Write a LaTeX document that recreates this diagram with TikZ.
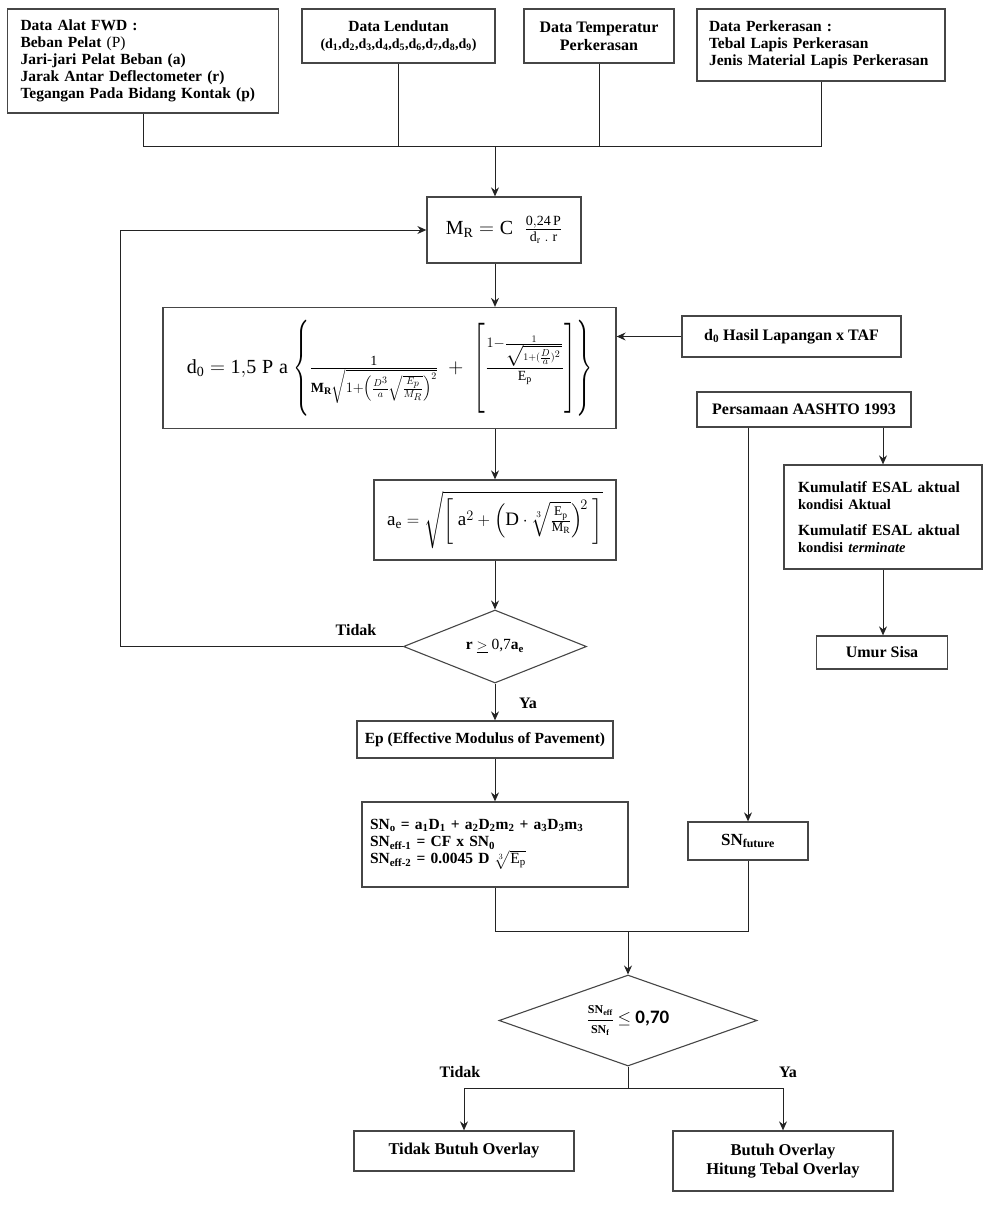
\documentclass[tikz,border=0pt]{standalone}
\usepackage{amsmath,amssymb}
\usepackage{graphicx}
\usepackage{fontspec}
\setmainfont{Liberation Serif}
\newfontfamily\carlito{Carlito}
\usepackage{tikz}
\usetikzlibrary{shapes.geometric,arrows.meta,positioning,calc}
\definecolor{boxgray}{RGB}{70,70,70}
\definecolor{linegray}{RGB}{35,35,35}
\newcommand{\tallbr}[2]{\mathopen{\vcenter{\hbox{\scalebox{1}[#1]{$\Biggl#2$}}}}}
\newcommand{\tallbrr}[2]{\mathclose{\vcenter{\hbox{\scalebox{1}[#1]{$\Biggr#2$}}}}}

\tikzset{
  box/.style={draw=boxgray, line width=1.3pt, fill=white, inner sep=0pt, align=center,
    font=\bfseries\fontsize{15.5}{17}\selectfont},
  lbox/.style={box, align=left},
  bigbox/.style={box, font=\bfseries\fontsize{16.5}{19}\selectfont},
  decision/.style={diamond, draw=boxgray, line width=1.1pt, fill=white, inner sep=0pt,
    aspect=2.6, font=\bfseries\fontsize{15.5}{17}\selectfont},
  link/.style={draw=linegray, line width=1pt},
  flow/.style={link, -{Stealth[length=9pt,width=8pt,inset=3pt]}},
  tag/.style={font=\bfseries\fontsize{16}{18}\selectfont}
}

\begin{document}
\begin{tikzpicture}[x=1pt,y=-1pt]
\useasboundingbox (0,0) rectangle (999,1205);

% data masukan
\node[lbox, minimum width=271pt, minimum height=104pt, text width=245pt] (fwd) at (143,61)
  {Data Alat FWD :\\ Beban Pelat \textmd{(P)}\\ Jari-jari Pelat Beban (a)\\ Jarak Antar Deflectometer (r)\\ Tegangan Pada Bidang Kontak (p)};
\node[box, minimum width=193pt, minimum height=54pt] (lendutan) at (398.5,36)
  {Data Lendutan\\ {\fontsize{14}{16}\selectfont (d\textsubscript{1},d\textsubscript{2},d\textsubscript{3},d\textsubscript{4},d\textsubscript{5},d\textsubscript{6},d\textsubscript{7},d\textsubscript{8},d\textsubscript{9})}};
\node[box, minimum width=150pt, minimum height=54pt, font=\bfseries\fontsize{16}{18}\selectfont] (temp) at (599,36)
  {Data Temperatur\\ Perkerasan};
\node[lbox, minimum width=248pt, minimum height=72pt, text width=224pt] (perk) at (821,45)
  {Data Perkerasan :\\ Tebal Lapis Perkerasan\\ Jenis Material Lapis Perkerasan};

% proses utama
\node[box, minimum width=154pt, minimum height=66pt, font=\fontsize{20}{24}\selectfont] (mr) at (504,230)
  {$\mathrm{M_R = C}\;\;\frac{\mathrm{0{,}24\,P}}{\mathrm{d_r\;.\;r}}$};
\node[box, minimum width=453pt, minimum height=121pt, font=\fontsize{20}{24}\selectfont] (dnol) at (389.5,368)
  {$\mathrm{d_0 = 1{,}5\;P\;a}\;\tallbr{1.6}{\{}\frac{\mathrm{1}}{\mathbf{M_R}\sqrt{1+\left(\frac{D^3}{a}\sqrt{\frac{E_p}{M_R}}\right)^2}}\;+\;\tallbr{1.5}{[}\frac{1-\frac{1}{\sqrt{1+(\frac{D}{a})^2\,}}}{\mathrm{E_p}}\tallbrr{1.5}{]}\tallbrr{1.6}{\}}$};
\node[box, minimum width=219pt, minimum height=41pt, font=\bfseries\fontsize{16}{18}\selectfont] (dlap) at (791.5,336.5)
  {d\textsubscript{0} Hasil Lapangan x TAF};
\node[box, minimum width=242pt, minimum height=80pt, font=\fontsize{19}{22}\selectfont] (ae) at (495,520)
  {$\mathrm{a_e} = \sqrt{\biggl[\;\mathrm{a}^2 + \Bigl(\mathrm{D}\cdot\sqrt[3]{\frac{\mathrm{E_p}}{\mathrm{M_R}}}\Bigr)^{\!2}\;\biggr]}$};
\node[decision, minimum width=183pt, minimum height=73pt] (cek) at (495,646.5)
  {r $\underline{>}$ \textmd{0,7}a\textsubscript{e}};
\node[box, minimum width=256pt, minimum height=37pt] (ep) at (485,739.5)
  {Ep (Effective Modulus of Pavement)};
\node[lbox, minimum width=266pt, minimum height=85pt, text width=250pt] (sn) at (495,844.5)
  {SN\textsubscript{o} = a\textsubscript{1}D\textsubscript{1} + a\textsubscript{2}D\textsubscript{2}m\textsubscript{2} + a\textsubscript{3}D\textsubscript{3}m\textsubscript{3}\\
   SN\textsubscript{eff-1} = CF x SN\textsubscript{0}\\
   SN\textsubscript{eff-2} = 0.0045 D $\sqrt[3]{\mathrm{E_p}}$};

% umur sisa
\node[box, minimum width=214pt, minimum height=35pt, font=\bfseries\fontsize{16}{18}\selectfont] (aashto) at (804,409.5)
  {Persamaan AASHTO 1993};
\node[lbox, minimum width=198pt, minimum height=104pt, text width=170pt] (esal) at (883,517)
  {Kumulatif ESAL aktual\\ {\fontsize{14.5}{17}\selectfont kondisi Aktual}\\[9pt]
   Kumulatif ESAL aktual\\ {\fontsize{14.5}{17}\selectfont kondisi \textit{terminate}}};
\node[box, minimum width=131pt, minimum height=33pt, font=\bfseries\fontsize{16}{18}\selectfont] (umur) at (882,652.5)
  {Umur Sisa};
\node[box, minimum width=120pt, minimum height=38pt, font=\bfseries\fontsize{17}{19}\selectfont] (snf) at (748,841)
  {SN\textsubscript{future}};

% keputusan overlay
\node[decision, minimum width=258pt, minimum height=91pt, aspect=2.8] (cekov) at (628,1020.5)
  {$\dfrac{\text{\fontsize{12}{14}\selectfont SN\textsubscript{eff}}}{\text{\fontsize{12}{14}\selectfont SN\textsubscript{f}}}$ {\carlito\bfseries\fontsize{19}{22}\selectfont $\leq$ 0,70}};
\node[bigbox, minimum width=220pt, minimum height=40pt] (tidakov) at (464,1151)
  {Tidak Butuh Overlay};
\node[bigbox, minimum width=220pt, minimum height=60pt] (ov) at (783,1161)
  {Butuh Overlay\\ Hitung Tebal Overlay};

\coordinate (join) at (495,146);
\coordinate (loopx) at (120,0);
\coordinate (merge) at (628,931);
\coordinate (split) at (628,1088);

% penghubung
\draw[link] (fwd.south) -- (fwd.south |- join) -- (perk.south |- join) -- (perk.south);
\draw[link] (lendutan.south) -- (lendutan.south |- join);
\draw[link] (temp.south) -- (temp.south |- join);
\draw[flow] (join) -- (join |- mr.north);
\draw[flow] (mr.south -| join) -- (dnol.north -| join);
\draw[flow] (dlap.west) -- (dlap.west -| dnol.east);
\draw[flow] (dnol.south -| join) -- (ae.north);
\draw[flow] (ae.south) -- (cek.north);
\draw[flow] (cek.west) -- (cek.west -| loopx) |- (mr.west);
\draw[flow] (cek.south) -- (cek.south |- ep.north);
\draw[flow] (ep.south -| join) -- (sn.north -| join);
\draw[flow] (aashto.south -| snf.north) -- (snf.north);
\draw[flow] (aashto.south -| esal.north) -- (esal.north);
\draw[flow] (esal.south) -- (esal.south |- umur.north);
\draw[link] (sn.south -| join) -- (join |- merge) -- (snf.south |- merge) -- (snf.south);
\draw[flow] (merge) -- (cekov.north);
\draw[link] (cekov.south) -- (split);
\draw[flow] (split) -| (tidakov.north);
\draw[flow] (split) -| (ov.north);

\node[tag] (tidaka) at (356,630) {Tidak};
\node[tag] (yaa) at (528,703) {Ya};
\node[tag] (tidakb) at (460,1072) {Tidak};
\node[tag] (yab) at (788,1072) {Ya};
\end{tikzpicture}
\end{document}
